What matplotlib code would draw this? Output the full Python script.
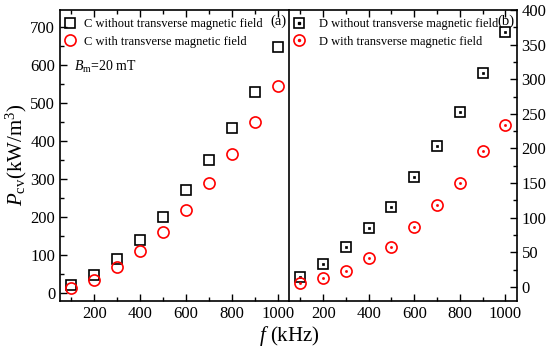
import matplotlib
matplotlib.use("Agg")
import matplotlib.pyplot as plt
from matplotlib.ticker import MultipleLocator
from matplotlib.lines import Line2D

plt.rcParams['font.family'] = ['Liberation Serif', 'DejaVu Serif']
plt.rcParams['mathtext.fontset'] = 'custom'
plt.rcParams['mathtext.rm'] = 'Liberation Serif'
plt.rcParams['mathtext.it'] = 'Liberation Serif:italic'

freq = [100, 200, 300, 400, 500, 600, 700, 800, 900, 1000]
c_without = [20, 48, 89, 140, 199, 270, 350, 435, 530, 649]
c_with = [12, 34, 67, 110, 160, 219, 289, 367, 451, 545]
d_without = [14, 33, 57, 85, 116, 158, 204, 252, 309, 368]
d_with = [5, 12.5, 23.5, 41, 57, 87, 118, 150, 197, 234]

fig = plt.figure(figsize=(5.5, 3.49), dpi=100)
axL = fig.add_axes([60/550, 1-300.7/349, 229/550, 290.7/349])
axR = fig.add_axes([289/550, 1-300.7/349, 227.7/550, 290.7/349])

for ax in (axL, axR):
    ax.set_xlim(50, 1050)
    ax.xaxis.set_major_locator(MultipleLocator(200))
    ax.xaxis.set_minor_locator(MultipleLocator(100))
    for s in ax.spines.values():
        s.set_linewidth(1.2)
    ax.tick_params(which='both', direction='in', labelsize=12, width=1.0)
    ax.tick_params(which='major', length=5)
    ax.tick_params(which='minor', length=3)

# Left panel
axL.set_ylim(-21, 746)
axL.yaxis.set_major_locator(MultipleLocator(100))
axL.yaxis.set_minor_locator(MultipleLocator(50))
axL.spines['right'].set_visible(False)
axL.tick_params(which='both', top=True, right=False, left=True)
axL.plot(freq, c_without, linestyle='none', marker='s', ms=7, mfc='none',
         mec='black', mew=1.2, label='C without transverse magnetic field')
axL.plot(freq, c_with, linestyle='none', marker='o', ms=8, mfc='none',
         mec='red', mew=1.2, label='C with transverse magnetic field')
axL.legend(loc='upper left', frameon=False, fontsize=9, handletextpad=0.5,
           borderaxespad=0.0, labelspacing=0.45, handlelength=1.2,
           bbox_to_anchor=(-0.01, 0.99))
axL.text(0.06, 0.79, r'$B_{\mathrm{m}}$=20 mT', transform=axL.transAxes,
         fontsize=10)
axL.text(0.99, 0.985, '(a)', transform=axL.transAxes, fontsize=10.5,
         ha='right', va='top')
axL.set_ylabel(r'$P_{\mathrm{cv}}$(kW/m$^3$)', fontsize=15, labelpad=1)

# Right panel
axR.set_ylim(-20, 400)
axR.yaxis.set_major_locator(MultipleLocator(50))
axR.yaxis.set_minor_locator(MultipleLocator(25))
axR.yaxis.tick_right()
axR.tick_params(which='both', top=True, right=True, left=False,
                labelright=True, labelleft=False)
axR.plot(freq, d_without, linestyle='none', marker='s', ms=7, mfc='none',
         mec='black', mew=1.2)
axR.plot(freq, d_without, linestyle='none', marker='s', ms=1.5, mfc='black',
         mec='black', mew=0.5)
axR.plot(freq, d_with, linestyle='none', marker='o', ms=8, mfc='none',
         mec='red', mew=1.2)
axR.plot(freq, d_with, linestyle='none', marker='o', ms=1.5, mfc='red',
         mec='red', mew=0.5)
h1 = (Line2D([], [], linestyle='none', marker='s', ms=7, mfc='none', mec='black', mew=1.2),
      Line2D([], [], linestyle='none', marker='s', ms=1.5, mfc='black', mec='black'))
h2 = (Line2D([], [], linestyle='none', marker='o', ms=8, mfc='none', mec='red', mew=1.2),
      Line2D([], [], linestyle='none', marker='o', ms=1.5, mfc='red', mec='red'))
axR.legend([h1, h2], ['D without transverse magnetic field',
                      'D with transverse magnetic field'],
           loc='upper left', frameon=False, fontsize=9, handletextpad=1.0,
           borderaxespad=0.0, labelspacing=0.45, handlelength=1.2,
           bbox_to_anchor=(-0.01, 0.99))
axR.text(0.99, 0.985, '(b)', transform=axR.transAxes, fontsize=10.5,
         ha='right', va='top')

fig.text(289/550, 0.004, r'$f$ (kHz)', fontsize=15, ha='center', va='bottom')

fig.savefig('out.png', dpi=100)
